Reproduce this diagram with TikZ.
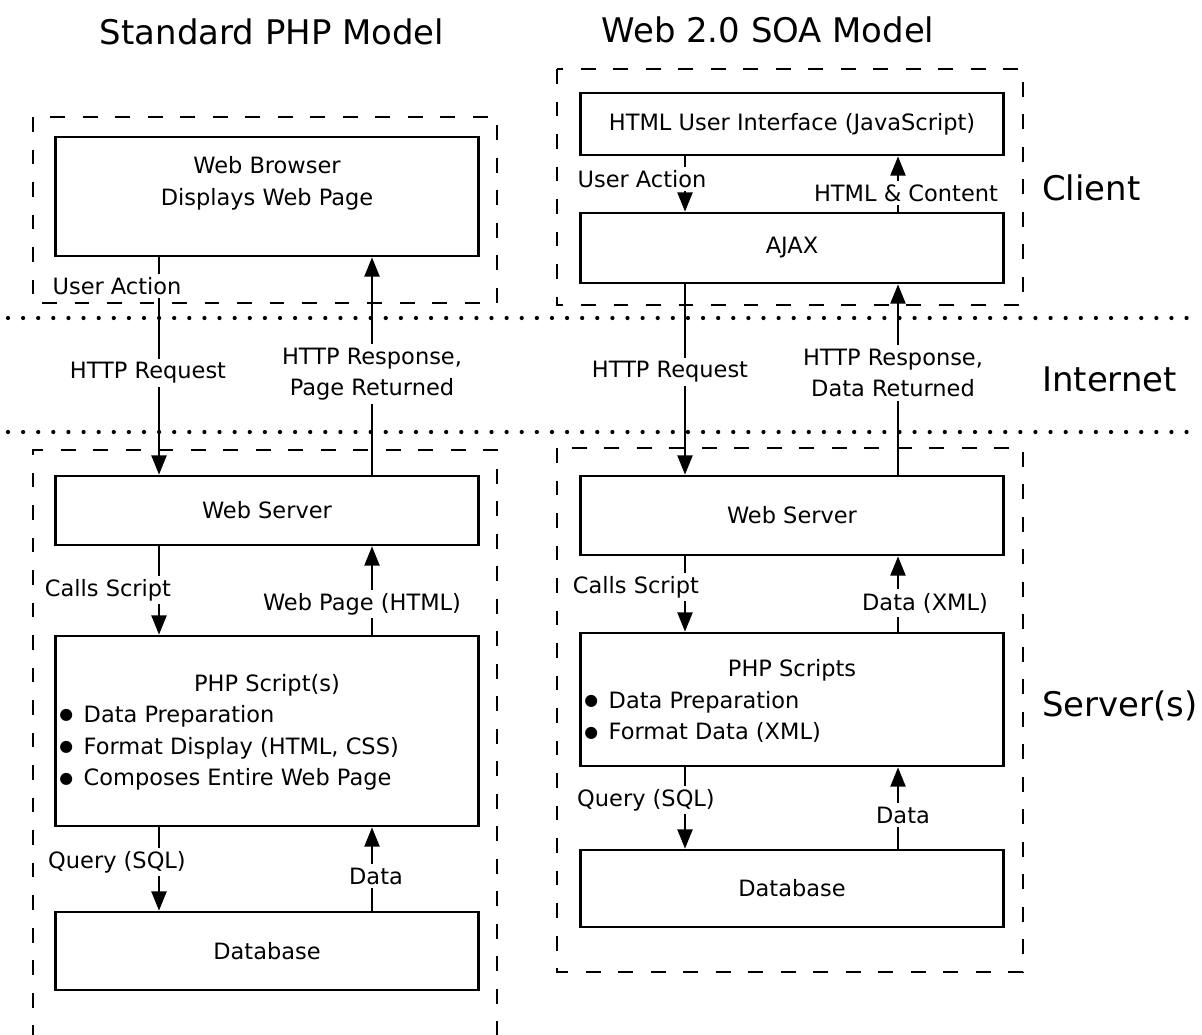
\documentclass[tikz,border=0pt]{standalone}
\usepackage{fontspec}
\setmainfont{DejaVu Sans}
\usetikzlibrary{positioning, arrows.meta, calc}
\newcommand{\blt}{\raisebox{1.6pt}{\fontsize{9}{9}\selectfont ●}\hspace{6pt}}

\begin{document}
\begin{tikzpicture}[
  x=0.02cm, y=-0.02cm,
  font=\fontsize{12.8}{18}\selectfont,
  box/.style={draw, line width=1.5pt, minimum width=8.45cm, inner sep=0pt, align=center},
  frame/.style={line width=0.8pt, dash pattern=on 8.5pt off 10pt},
  zone/.style={line width=2.4pt, dash pattern=on 0pt off 8.6pt, line cap=round},
  flow/.style={line width=1.4pt, -{Triangle[length=11pt, width=8.5pt]}},
  lbl/.style={fill=white, inner sep=2pt, align=center},
  title/.style={font=\fontsize{19.3}{23}\selectfont},
]
  \useasboundingbox (0,0) rectangle (1202,1034);

  % Titles and zone names
  \node[title] (tphp) at (272,32) {Standard PHP Model};
  \node[title] (tsoa) at (768,30) {Web 2.0 SOA Model};
  \node[title, anchor=west] (client) at (1036,188) {Client};
  \node[title, anchor=west] (inet) at (1036,379) {Internet};
  \node[title, anchor=west] (srv) at (1036,706) {Server(s)};

  % Zone borders
  \foreach \y in {318, 432} \draw[zone] (8,\y) -- (1198,\y);

  % Dashed frames
  \draw[frame] (33,117) rectangle (497,303);
  \draw[frame] (557,69) rectangle (1023,305);
  \draw[frame] (33,1040) -- (33,450) -- (497,450) -- (497,1040);
  \draw[frame] (557,448) rectangle (1023,972);

  % Standard PHP model
  \node[box, minimum height=2.38cm] (wb) at (267,196.5) {Web Browser\\Displays Web Page\\~};
  \node[box, minimum height=1.38cm] (ws) at (267,510.5) {Web Server};
  \node[box, minimum height=3.8cm] (php) at (267,731) {};
  \node (phpt) at (267,685) {PHP Script(s)};
  \node[anchor=west, align=left, inner sep=0pt] (phpl) at (59,748)
    {\blt Data Preparation\\\blt Format Display (HTML, CSS)\\\blt Composes Entire Web Page};
  \node[box, minimum height=1.56cm] (db) at (267,951) {Database};

  % Web 2.0 SOA model
  \node[box, minimum height=1.24cm] (ui) at (792,124) {HTML User Interface (JavaScript)};
  \node[box, minimum height=1.4cm] (ajax) at (792,248) {AJAX};
  \node[box, minimum height=1.58cm] (ws2) at (792,515.5) {Web Server};
  \node[box, minimum height=2.66cm] (php2) at (792,699.5) {};
  \node (php2t) at (792,670) {PHP Scripts};
  \node[anchor=west, align=left, inner sep=0pt] (php2l) at (584,717)
    {\blt Data Preparation\\\blt Format Data (XML)};
  \node[box, minimum height=1.54cm] (db2) at (792,888.5) {Database};

  % Arrows, standard model
  \draw[flow] ($(wb.south)+(-108,0)$) -- ($(ws.north)+(-108,0)$);
  \draw[flow] ($(ws.north)+(105,0)$) -- ($(wb.south)+(105,0)$);
  \draw[flow] ($(ws.south)+(-108,0)$) -- ($(php.north)+(-108,0)$);
  \draw[flow] ($(php.north)+(105,0)$) -- ($(ws.south)+(105,0)$);
  \draw[flow] ($(php.south)+(-108,0)$) -- ($(db.north)+(-108,0)$);
  \draw[flow] ($(db.north)+(105,0)$) -- ($(php.south)+(105,0)$);

  % Arrows, SOA model
  \draw[flow] ($(ui.south)+(-107,0)$) -- ($(ajax.north)+(-107,0)$);
  \draw[flow] ($(ajax.north)+(106,0)$) -- ($(ui.south)+(106,0)$);
  \draw[flow] ($(ajax.south)+(-107,0)$) -- ($(ws2.north)+(-107,0)$);
  \draw[flow] ($(ws2.north)+(106,0)$) -- ($(ajax.south)+(106,0)$);
  \draw[flow] ($(ws2.south)+(-107,0)$) -- ($(php2.north)+(-107,0)$);
  \draw[flow] ($(php2.north)+(106,0)$) -- ($(ws2.south)+(106,0)$);
  \draw[flow] ($(php2.south)+(-107,0)$) -- ($(db2.north)+(-107,0)$);
  \draw[flow] ($(db2.north)+(106,0)$) -- ($(php2.south)+(106,0)$);

  % Arrow labels
  \node[lbl] (ua) at (117,286) {User Action};
  \node[lbl] (hreq) at (148,373) {HTTP Request};
  \node[lbl] (hres) at (372,374) {HTTP Response,\\Page Returned};
  \node[lbl] (cs) at (108,590) {Calls Script};
  \node[lbl] (wp) at (362,604) {Web Page (HTML)};
  \node[lbl] (qry) at (117,862) {Query (SQL)};
  \node[lbl] (dat) at (376,876) {Data};

  \node[lbl] (ua2) at (642,179) {User Action};
  \node[lbl] (hc2) at (906,193) {HTML \& Content};
  \node[lbl] (hreq2) at (670,372) {HTTP Request};
  \node[lbl] (hres2) at (893,373) {HTTP Response,\\Data Returned};
  \node[lbl] (cs2) at (636,587) {Calls Script};
  \node[lbl] (dx2) at (925,603) {Data (XML)};
  \node[lbl] (qry2) at (646,800) {Query (SQL)};
  \node[lbl] (dat2) at (903,815) {Data};
\end{tikzpicture}
\end{document}
